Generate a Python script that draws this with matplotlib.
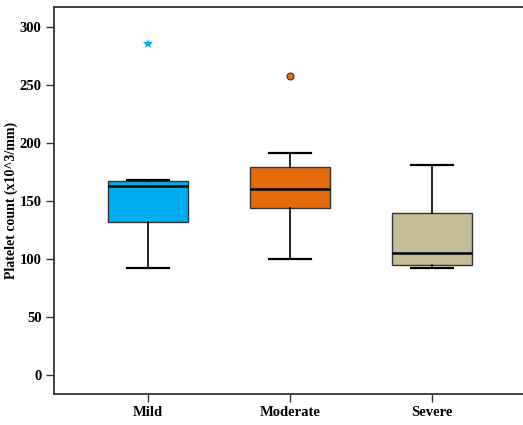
import matplotlib
matplotlib.use("Agg")
import matplotlib.pyplot as plt

# box plot values
groups = ["Mild", "Moderate", "Severe"]
whislo = [92.5, 100, 92]
q1 = [132, 144, 95]
med = [162.5, 160.5, 105]
q3 = [167, 179, 140]
whishi = [168, 191, 181]
fliers = [[285], [258], []]
colors = ["#00AEEF", "#E46C0A", "#C4BD97"]
flier_markers = ["*", "o", "o"]
yticks = [0, 50, 100, 150, 200, 250, 300]

plt.rcParams["font.family"] = ["Liberation Serif", "DejaVu Serif"]
plt.rcParams["font.weight"] = "bold"

fig = plt.figure(figsize=(5.23, 4.25), dpi=100)
ax = fig.add_axes([54 / 523, 31 / 425, 472 / 523, 387 / 425])

stats = []
for i, g in enumerate(groups):
    stats.append(dict(label=g, whislo=whislo[i], q1=q1[i], med=med[i],
                      q3=q3[i], whishi=whishi[i], fliers=fliers[i]))

positions = [1, 2, 3]
bp = ax.bxp(stats, positions=positions, widths=0.57, patch_artist=True,
            showfliers=False,
            boxprops=dict(linewidth=1.0, edgecolor="#333333"),
            medianprops=dict(color="black", linewidth=1.8),
            whiskerprops=dict(color="black", linewidth=1.2),
            capprops=dict(color="black", linewidth=1.6),
            capwidths=0.29)
for patch, c in zip(bp["boxes"], colors):
    patch.set_facecolor(c)

# outliers drawn per group so each keeps its own marker
for i, f in enumerate(fliers):
    if not f:
        continue
    if flier_markers[i] == "*":
        ax.plot([positions[i]] * len(f), f, linestyle="none", marker="*",
                markersize=7, color=colors[i], markeredgewidth=0)
    else:
        ax.plot([positions[i]] * len(f), f, linestyle="none", marker="o",
                markersize=5, markerfacecolor=colors[i],
                markeredgecolor="#333333", markeredgewidth=0.8)

ax.set_xlim(0.338, 3.662)
ax.set_ylim(-16.4, 317.2)
ax.set_yticks(yticks)
ax.set_xticks(positions)
ax.set_xticklabels(groups, fontsize=10.5, fontweight="bold")
ax.set_yticklabels([str(t) for t in yticks], fontsize=10.5, fontweight="bold")
ax.set_ylabel("Platelet count (x10^3/mm)", fontsize=10, fontweight="bold", labelpad=1)

for s in ax.spines.values():
    s.set_linewidth(1.3)
    s.set_color("#333333")
ax.tick_params(axis="both", length=6, width=1.0, color="#333333", pad=3)

fig.savefig("out.png", dpi=100)
